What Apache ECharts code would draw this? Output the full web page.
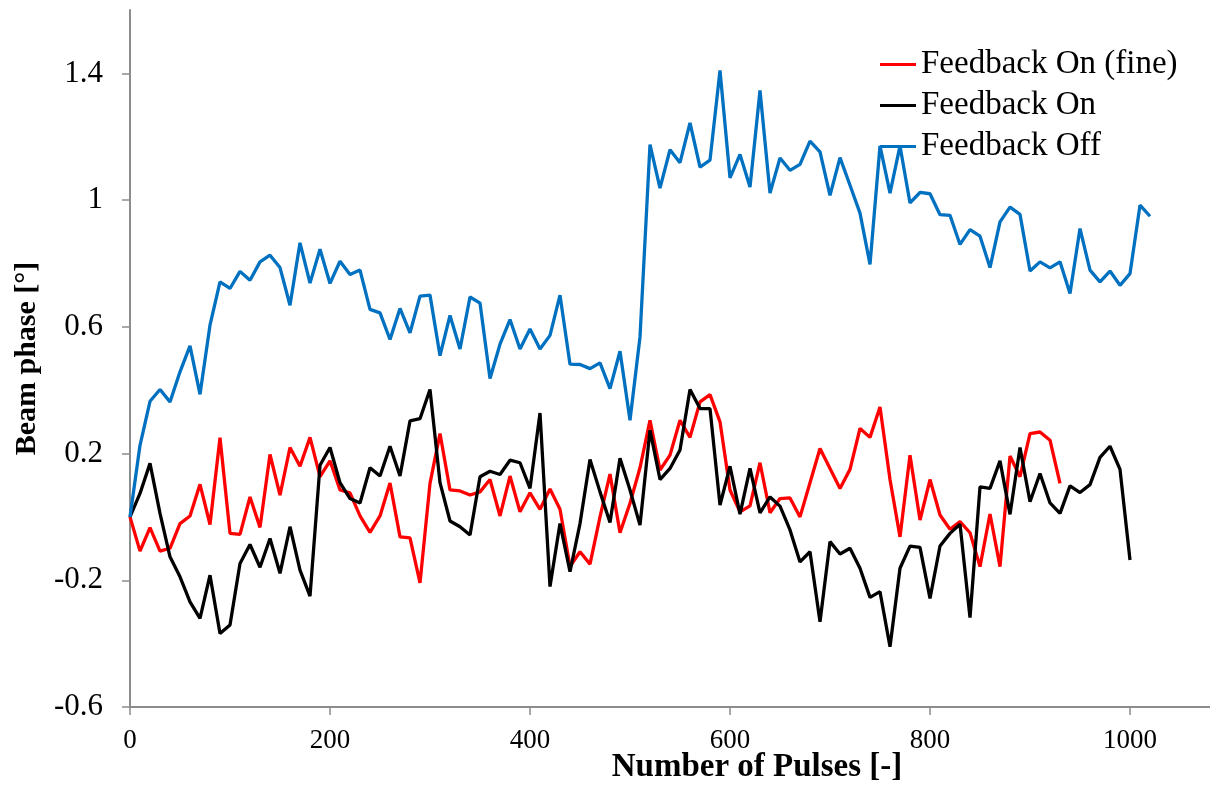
<!DOCTYPE html>
<html>
<head>
<meta charset="utf-8">
<title>Beam phase vs number of pulses</title>
<script src="https://cdn.jsdelivr.net/npm/echarts@6/dist/echarts.min.js"></script>
<style>
  html, body { margin: 0; padding: 0; background: #ffffff; }
  #chart { width: 1210px; height: 790px; }
</style>
</head>
<body>
<div id="chart"></div>
<script>
// Pulse spacing between successive samples
const PULSE_STEP = 10;

// Beam phase [deg], one sample every 10 pulses starting at pulse 0
const feedbackOnFine = [
  0.00, -0.108, -0.034, -0.108, -0.099, -0.021, 0.003, 0.103, -0.024, 0.250,
  -0.052, -0.055, 0.063, -0.033, 0.197, 0.069, 0.219, 0.160, 0.251, 0.127,
  0.177, 0.085, 0.076, 0.003, -0.049, 0.003, 0.107, -0.063, -0.066, -0.208,
  0.106, 0.263, 0.085, 0.082, 0.069, 0.079, 0.118, 0.003, 0.129, 0.016,
  0.076, 0.024, 0.088, 0.024, -0.157, -0.110, -0.149, 0.000, 0.135, -0.050,
  0.043, 0.155, 0.305, 0.148, 0.195, 0.305, 0.251, 0.363, 0.386, 0.300,
  0.085, 0.016, 0.035, 0.171, 0.013, 0.058, 0.060, 0.000, 0.108, 0.216,
  0.153, 0.090, 0.150, 0.279, 0.251, 0.347, 0.118, -0.063, 0.195, -0.010,
  0.118, 0.006, -0.039, -0.015, -0.050, -0.157, 0.009, -0.157, 0.192, 0.127,
  0.263, 0.268, 0.242, 0.106
];

const feedbackOn = [
  0.00, 0.074, 0.169, 0.011, -0.126, -0.189, -0.268, -0.320, -0.184, -0.368,
  -0.341, -0.147, -0.087, -0.159, -0.068, -0.178, -0.031, -0.168, -0.250, 0.163,
  0.219, 0.108, 0.058, 0.044, 0.155, 0.129, 0.223, 0.129, 0.303, 0.310,
  0.402, 0.108, -0.013, -0.031, -0.057, 0.127, 0.144, 0.134, 0.179, 0.171,
  0.090, 0.328, -0.220, -0.021, -0.173, -0.021, 0.181, 0.079, -0.018, 0.185,
  0.085, -0.026, 0.274, 0.118, 0.153, 0.211, 0.402, 0.342, 0.342, 0.037,
  0.160, 0.009, 0.153, 0.013, 0.063, 0.034, -0.041, -0.142, -0.110, -0.331,
  -0.078, -0.117, -0.099, -0.162, -0.254, -0.236, -0.410, -0.162, -0.092, -0.096,
  -0.257, -0.092, -0.052, -0.023, -0.318, 0.095, 0.090, 0.177, 0.008, 0.219,
  0.048, 0.137, 0.044, 0.011, 0.098, 0.077, 0.102, 0.188, 0.223, 0.150,
  -0.136
];

const feedbackOff = [
  0.00, 0.226, 0.365, 0.402, 0.363, 0.458, 0.540, 0.387, 0.605, 0.742,
  0.721, 0.775, 0.747, 0.805, 0.826, 0.787, 0.668, 0.865, 0.738, 0.845,
  0.737, 0.807, 0.765, 0.779, 0.655, 0.644, 0.560, 0.658, 0.581, 0.697,
  0.700, 0.509, 0.636, 0.530, 0.694, 0.675, 0.437, 0.545, 0.623, 0.530,
  0.593, 0.530, 0.573, 0.700, 0.482, 0.481, 0.468, 0.486, 0.405, 0.523,
  0.305, 0.568, 1.175, 1.038, 1.159, 1.118, 1.244, 1.104, 1.126, 1.409,
  1.070, 1.144, 1.041, 1.346, 1.022, 1.133, 1.094, 1.113, 1.186, 1.152,
  1.015, 1.134, 1.047, 0.959, 0.797, 1.171, 1.022, 1.171, 0.991, 1.024,
  1.020, 0.954, 0.952, 0.860, 0.907, 0.886, 0.787, 0.931, 0.978, 0.955,
  0.776, 0.805, 0.786, 0.805, 0.705, 0.910, 0.779, 0.742, 0.776, 0.731,
  0.768, 0.984, 0.949
];

// Axis tick labels
const xTicks = [0, 200, 400, 600, 800, 1000];
const yTicks = [-0.6, -0.2, 0.2, 0.6, 1, 1.4];

const seriesNames = ['Feedback On (fine)', 'Feedback On', 'Feedback Off'];
const seriesColors = ['#ff0000', '#000000', '#0070c0'];

function toPairs(values) {
  return values.map((v, i) => [i * PULSE_STEP, v]);
}

const serif = '"Liberation Serif", "Times New Roman", serif';
const axisGray = '#8c8c8c';

const chart = echarts.init(document.getElementById('chart'), null, { renderer: 'canvas' });

chart.setOption({
  backgroundColor: '#ffffff',
  animation: false,
  grid: { left: 130, right: 0, top: 10, bottom: 83, outerBoundsMode: 'none', containLabel: false },
  legend: {
    orient: 'vertical',
    left: 880,
    top: 48,
    padding: 0,
    icon: 'rect',
    itemWidth: 36,
    itemHeight: 3,
    itemGap: 8,
    textStyle: { fontFamily: serif, fontSize: 33, lineHeight: 33, color: '#000000' },
    data: seriesNames
  },
  xAxis: {
    type: 'value',
    min: 0,
    max: 1080,
    interval: 200,
    axisLine: { show: true, onZero: false, lineStyle: { color: axisGray, width: 2 } },
    axisTick: { show: true, length: 8, lineStyle: { color: axisGray, width: 1.5 }, customValues: xTicks },
    axisLabel: {
      margin: 20, fontFamily: serif, fontSize: 27, color: '#000000', customValues: xTicks,
      formatter: (v) => String(v)
    },
    splitLine: { show: false }
  },
  yAxis: {
    type: 'value',
    min: -0.6,
    max: 1.6,
    interval: 0.4,
    name: 'Beam phase [°]',
    nameLocation: 'middle',
    nameGap: 88,
    nameRotate: 90,
    nameTextStyle: { fontFamily: serif, fontSize: 30, fontWeight: 'bold', color: '#000000' },
    axisLine: { show: true, lineStyle: { color: axisGray, width: 2 } },
    axisTick: { show: true, length: 8, lineStyle: { color: axisGray, width: 1.5 }, customValues: yTicks },
    axisLabel: {
      margin: 27, fontFamily: serif, fontSize: 31, color: '#000000', customValues: yTicks,
      formatter: (v) => String(v)
    },
    splitLine: { show: false }
  },
  graphic: [{
    type: 'text',
    x: 757,
    y: 767,
    style: {
      text: 'Number of Pulses [-]',
      font: 'bold 33px ' + serif,
      fill: '#000000',
      textAlign: 'center',
      textVerticalAlign: 'middle'
    }
  }],
  series: [feedbackOnFine, feedbackOn, feedbackOff].map((vals, k) => ({
    name: seriesNames[k],
    type: 'line',
    data: toPairs(vals),
    symbol: 'none',
    showSymbol: false,
    color: seriesColors[k],
    lineStyle: { color: seriesColors[k], width: 3.3 },
    emphasis: { disabled: true }
  }))
});
</script>
</body>
</html>
